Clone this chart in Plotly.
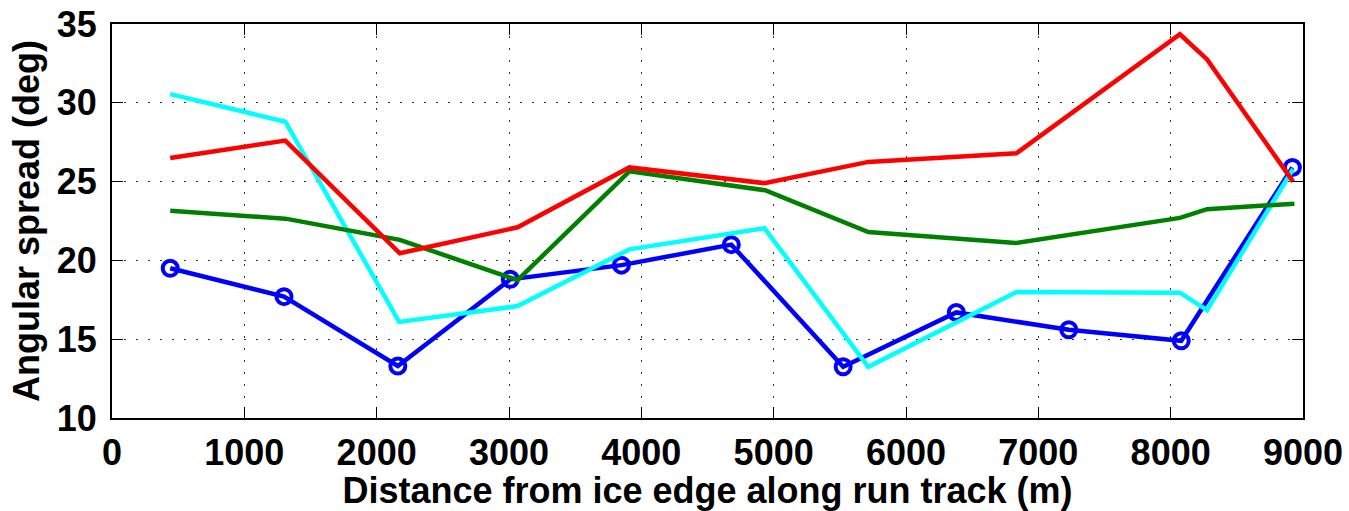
import plotly.graph_objects as go

# Distance from ice edge (m) and angular spread (deg) for each series
blue_x = [440, 1300, 2160, 3010, 3850, 4680, 5525, 6380, 7230, 8080, 8920]
blue_y = [19.5, 17.7, 13.3, 18.8, 19.7, 21.0, 13.25, 16.7, 15.6, 14.9, 25.9]

cyan_x = [440, 1310, 2170, 3065, 3910, 4930, 5715, 6835, 8070, 8275, 8925]
cyan_y = [30.55, 28.8, 16.1, 17.1, 20.7, 22.05, 13.25, 18.0, 17.95, 16.85, 25.8]

green_x = [440, 1310, 2175, 3065, 3910, 4935, 5715, 6830, 8070, 8275, 8935]
green_y = [23.15, 22.65, 21.3, 18.75, 25.65, 24.45, 21.8, 21.1, 22.7, 23.25, 23.6]

red_x = [440, 1310, 2175, 3065, 3910, 4930, 5715, 6835, 8070, 8275, 8925]
red_y = [26.5, 27.6, 20.45, 22.1, 25.9, 24.9, 26.25, 26.8, 34.35, 32.75, 25.0]

x_ticks = [0, 1000, 2000, 3000, 4000, 5000, 6000, 7000, 8000, 9000]
y_ticks = [10, 15, 20, 25, 30, 35]

FONT = "Liberation Sans, Arial, Helvetica, sans-serif"
LW = 4.5

fig = go.Figure()
fig.add_trace(go.Scatter(x=blue_x, y=blue_y, mode="lines+markers",
                         line=dict(color="#0000FF", width=LW),
                         marker=dict(symbol="circle-open", size=15, color="#0000FF",
                                     line=dict(width=4, color="#0000FF")),
                         showlegend=False))
fig.add_trace(go.Scatter(x=cyan_x, y=cyan_y, mode="lines",
                         line=dict(color="#00FFFF", width=LW), showlegend=False))
fig.add_trace(go.Scatter(x=green_x, y=green_y, mode="lines",
                         line=dict(color="#008000", width=LW), showlegend=False))
fig.add_trace(go.Scatter(x=red_x, y=red_y, mode="lines",
                         line=dict(color="#FF0000", width=LW), showlegend=False))

axis_common = dict(
    showline=True, linecolor="black", linewidth=2, mirror="ticks",
    ticks="inside", ticklen=11, tickwidth=1, tickcolor="black",
    showgrid=True, gridcolor="#333333", gridwidth=1, griddash="1.5px,10.5px",
    zeroline=False, automargin=False,
    tickfont=dict(family=FONT, size=36, color="black", weight="bold"),
)

fig.update_xaxes(range=[0, 9000], tickvals=x_ticks,
                 ticktext=[str(v) for v in x_ticks],
                 title=dict(text="Distance from ice edge along run track (m)",
                            font=dict(family=FONT, size=36, color="black", weight="bold"),
                            standoff=0),
                 ticklabelstandoff=2,
                 **axis_common)
fig.update_yaxes(range=[10, 35], tickvals=y_ticks,
                 ticktext=[str(v) for v in y_ticks],
                 title=dict(text="Angular spread (deg)",
                            font=dict(family=FONT, size=36, color="black", weight="bold"),
                            standoff=6),
                 ticklabelstandoff=6,
                 **axis_common)

fig.add_annotation(text="Angular spread", xref="paper", yref="paper",
                   x=0.5, y=1 + (24 + 23) / 394.0, xanchor="center", yanchor="middle",
                   showarrow=False,
                   font=dict(family=FONT, size=39, color="black", weight="bold"))

fig.update_layout(
    width=1349, height=511,
    margin=dict(l=112, r=46, t=24, b=93, autoexpand=False),
    paper_bgcolor="white", plot_bgcolor="white",
    font=dict(family=FONT, color="black"),
)

fig.write_html("out.html", config={"displayModeBar": False},
               post_script="document.body.style.margin='0';document.body.style.overflow='hidden';")
